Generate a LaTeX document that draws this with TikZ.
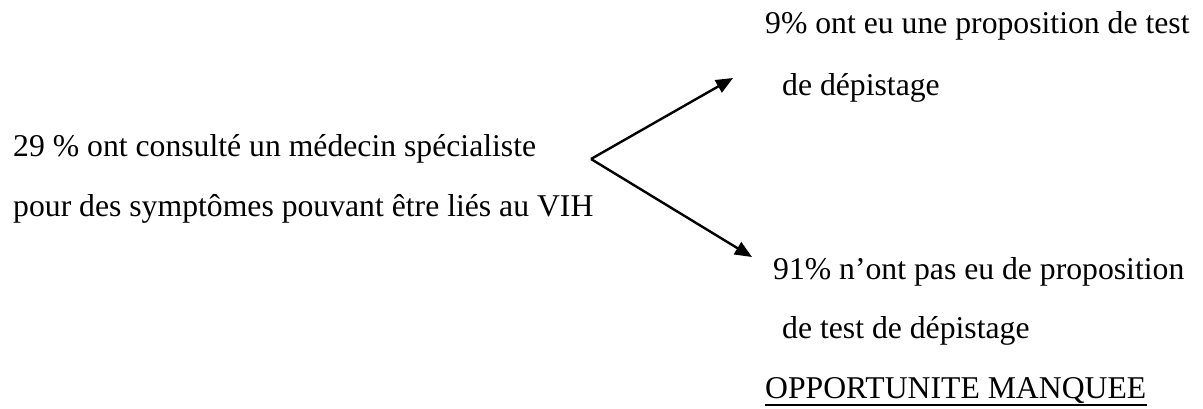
\documentclass[tikz,border=0pt]{standalone}
\usepackage{fontspec}
\setmainfont{Liberation Serif}
\usetikzlibrary{arrows.meta}
\begin{document}
\begin{tikzpicture}[x=1pt,y=-1pt,
  txt/.style={anchor=base west,inner sep=0pt,font=\fontsize{31.7}{38}\selectfont},
  arr/.style={line width=2.4pt,-{Triangle[length=17pt,width=14pt]}}]
\useasboundingbox (0,0) rectangle (1203,408);
\node[txt] (l1) at (13,156) {29 \% ont consulté un médecin spécialiste};
\node[txt] (l2) at (13,216) {pour des symptômes pouvant être liés au VIH};
\node[txt] (a1) at (765,33) {9\% ont eu une proposition de test};
\node[txt] (a2) at (782,95) {de dépistage};
\node[txt] (b1) at (773,279) {91\% n’ont pas eu de proposition};
\node[txt] (b2) at (782,338) {de test de dépistage};
\node[txt] (b3) at (765,398) {OPPORTUNITE MANQUEE};
\draw[line width=1.8pt] ([yshift=-7pt]b3.base west) -- ([yshift=-7pt]b3.base east);
\coordinate (o) at (591,159);
\coordinate (t1) at (733,78);
\coordinate (t2) at (752,257);
\draw[arr] (o) -- (t1);
\draw[arr] (o) -- (t2);
\end{tikzpicture}
\end{document}
